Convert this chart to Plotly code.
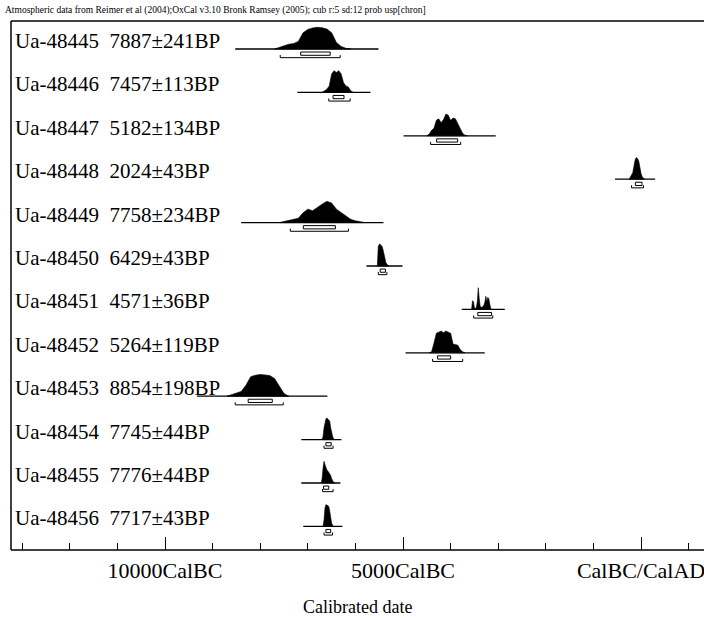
import plotly.graph_objects as go

# Samples: lab code, radiocarbon age and error (BP)
lab_ids = ["Ua-48445", "Ua-48446", "Ua-48447", "Ua-48448", "Ua-48449", "Ua-48450",
           "Ua-48451", "Ua-48452", "Ua-48453", "Ua-48454", "Ua-48455", "Ua-48456"]
bp_ages = [7887, 7457, 5182, 2024, 7758, 6429, 4571, 5264, 8854, 7745, 7776, 7717]
bp_errs = [241, 113, 134, 43, 234, 43, 36, 119, 198, 44, 44, 43]

# Calibrated probability grids (start year, step in years; negative = BC)
grid_start = [-7700, -6700, -4500, -250, -7600, -5540, -3560, -4450, -8700, -6700, -6720, -6680]
grid_step = [100, 50, 50, 25, 100, 20, 20, 50, 100, 20, 20, 20]

dens_48445 = [0, 0.08, 0.15, 0.22, 0.25, 0.35, 0.75, 0.9, 0.97, 1.0, 0.98, 0.92, 0.75, 0.3, 0.12, 0.03, 0]
dens_48446 = [0, 0.08, 0.15, 0.3, 0.85, 1.0, 0.92, 1.0, 0.85, 0.45, 0.3, 0.25, 0.08, 0]
dens_48447 = [0, 0.08, 0.25, 0.35, 0.72, 0.78, 0.6, 0.75, 1.0, 0.95, 0.7, 0.82, 0.78, 0.55, 0.35, 0.12, 0.03, 0]
dens_48448 = [0, 0.1, 0.2, 0.3, 0.6, 0.9, 1.0, 0.95, 0.85, 0.5, 0.25, 0.1, 0.03, 0]
dens_48449 = [0, 0.05, 0.1, 0.12, 0.2, 0.45, 0.62, 0.55, 0.72, 0.85, 0.98, 0.9, 0.62, 0.45, 0.3, 0.15, 0.08, 0.03, 0]
dens_48450 = [0, 0.9, 1.0, 1.0, 0.95, 0.9, 0.75, 0.55, 0.3, 0.15, 0.08, 0.04, 0]
dens_48451 = [0, 0.4, 0.35, 0.05, 0.05, 0.1, 0.35, 1.0, 0.5, 0.15, 0.1, 0.1, 0.15, 0.2, 0.35, 0.6, 0.35, 0.55, 0.5, 0.2, 0.05, 0]
dens_48452 = [0, 0.05, 0.45, 0.9, 0.95, 1.0, 0.92, 1.0, 0.95, 0.9, 0.4, 0.38, 0.35, 0.15, 0.05, 0]
dens_48453 = [0, 0.08, 0.15, 0.22, 0.5, 0.9, 0.97, 1.0, 0.98, 0.95, 0.82, 0.45, 0.12, 0]
dens_48454 = [0, 0.15, 0.55, 0.8, 0.95, 1.0, 0.95, 0.9, 0.85, 0.55, 0.3, 0.15, 0.05, 0]
dens_48455 = [0, 0.2, 0.7, 1.0, 0.85, 0.7, 0.6, 0.55, 0.5, 0.45, 0.35, 0.2, 0.08, 0.03, 0]
dens_48456 = [0, 0.3, 0.85, 1.0, 0.98, 0.95, 0.92, 0.7, 0.4, 0.15, 0.05, 0]

densities = [dens_48445, dens_48446, dens_48447, dens_48448, dens_48449, dens_48450,
             dens_48451, dens_48452, dens_48453, dens_48454, dens_48455, dens_48456]

# Calibration plotting span for each sample
span_from = [-8526, -7221, -4989, -547, -8400, -5768, -3768, -4947, -9326, -7137, -7137, -7095]
span_to = [-5516, -5684, -3053, 295, -5411, -5011, -2863, -3284, -6589, -6295, -6316, -6274]

# 68.2% and 95.4% ranges
r68_lo = [-7150, -6470, -4295, -120, -7095, -5480, -3430, -4274, -8253, -6620, -6670, -6620]
r68_hi = [-6530, -6240, -3853, 20, -6421, -5370, -3140, -4000, -7747, -6510, -6560, -6520]
r95_lo = [-7580, -6560, -4421, -200, -7368, -5520, -3516, -4379, -8526, -6660, -6690, -6660]
r95_hi = [-6320, -6110, -3789, 50, -6147, -5340, -3116, -3747, -7516, -6470, -6470, -6480]

# Axis
major_ticks = [-10000, -5000, 0]
major_labels = ["10000CalBC", "5000CalBC", "CalBC/CalAD"]
x_axis_title = "Calibrated date"
header = ("Atmospheric data from Reimer et al (2004);OxCal v3.10 Bronk Ramsey (2005); "
          "cub r:5 sd:12 prob usp[chron]")

SERIF = "Liberation Serif"
PEAK = 0.5  # row units for a normalised peak

fig = go.Figure()

for i, dens in enumerate(densities):
    xs = [grid_start[i] + grid_step[i] * k for k in range(len(dens))]
    ys = [i - PEAK * d for d in dens]
    # baseline of the plotted span
    fig.add_trace(go.Scatter(x=[span_from[i], span_to[i]], y=[i, i], mode="lines",
                             line=dict(color="black", width=1.3), hoverinfo="skip"))
    # filled probability distribution
    fig.add_trace(go.Scatter(x=xs + xs[::-1], y=ys + [i] * len(xs), mode="lines",
                             fill="toself", fillcolor="black",
                             line=dict(color="black", width=0.6), hoverinfo="skip"))
    # 68.2% range box
    a, b = r68_lo[i], r68_hi[i]
    fig.add_trace(go.Scatter(x=[a, b, b, a, a], y=[i + 0.07, i + 0.07, i + 0.145, i + 0.145, i + 0.07],
                             mode="lines", line=dict(color="black", width=1), hoverinfo="skip"))
    # 95.4% range bracket
    a, b = r95_lo[i], r95_hi[i]
    fig.add_trace(go.Scatter(x=[a, a, b, b], y=[i + 0.14, i + 0.2, i + 0.2, i + 0.14],
                             mode="lines", line=dict(color="black", width=1), hoverinfo="skip"))
    # sample label
    fig.add_annotation(x=0.003, xref="paper", y=i, yref="y", xanchor="left", yanchor="bottom",
                       yshift=-6, showarrow=False,
                       text=f"{lab_ids[i]}\u00a0\u00a0{bp_ages[i]}±{bp_errs[i]}BP",
                       font=dict(family=SERIF, size=21, color="black"))

fig.add_annotation(x=-0.011, xref="paper", y=1, yref="paper", xanchor="left", yanchor="middle",
                   yshift=11, showarrow=False, text=header,
                   font=dict(family=SERIF, size=9.5, color="black"))
fig.add_annotation(x=0.5, xref="paper", y=0, yref="paper", xanchor="center", yanchor="middle",
                   yshift=-57, showarrow=False, text=x_axis_title,
                   font=dict(family=SERIF, size=18, color="black"))

# frame: top, left and bottom edges
for x0, x1, y0, y1 in [(0, 1, 1, 1), (0, 0, 0, 1), (0, 1, 0, 0)]:
    fig.add_shape(type="line", xref="paper", yref="paper", x0=x0, x1=x1, y0=y0, y1=y1,
                  line=dict(color="black", width=1.5))

fig.update_layout(
    width=704, height=620,
    margin=dict(l=11, r=0, t=21, b=70),
    paper_bgcolor="white", plot_bgcolor="white",
    showlegend=False,
    xaxis=dict(range=[-13235, 1176], showgrid=False, zeroline=False,
               domain=[0, 0.99], showline=False, automargin=False,
               tickmode="array", tickvals=major_ticks, ticktext=major_labels,
               ticks="inside", ticklen=13, tickwidth=1.3, tickcolor="black",
               ticklabelstandoff=5, ticklabeloverflow="allow",
               tickfont=dict(family=SERIF, size=22, color="black"),
               minor=dict(dtick=1000, tick0=0, ticks="inside", ticklen=7,
                          tickwidth=1.2, tickcolor="black", showgrid=False)),
    yaxis=dict(range=[11.544, -0.645], showgrid=False, zeroline=False,
               showline=False, showticklabels=False, ticks="", automargin=False),
)

fig.write_html("out.html", config={"displayModeBar": False})
